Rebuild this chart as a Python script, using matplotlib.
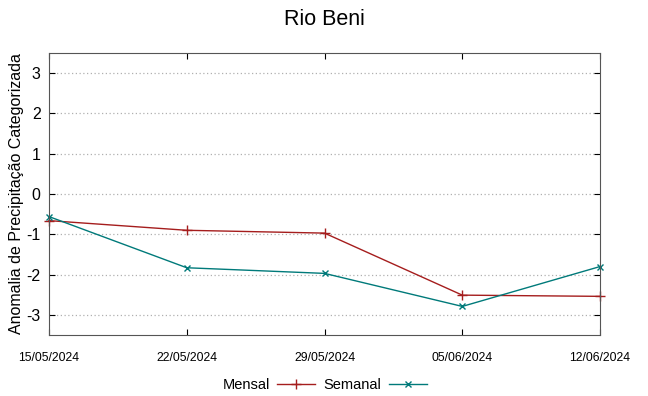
import matplotlib
matplotlib.use('Agg')
import matplotlib.pyplot as plt
import numpy as np
import pandas as pd

plt.rcParams['font.family'] = ['Liberation Sans', 'DejaVu Sans']
plt.rcParams['axes.unicode_minus'] = False

# Data
dates = pd.to_datetime(['2024-05-15', '2024-05-22', '2024-05-29', '2024-06-05', '2024-06-12'])
mensal = [-0.66, -0.90, -0.97, -2.51, -2.54]
semanal = [-0.56, -1.83, -1.97, -2.79, -1.80]
tick_labels = ['15/05/2024', '22/05/2024', '29/05/2024', '05/06/2024', '12/06/2024']

fig = plt.figure(figsize=(6.48, 3.96), dpi=100)
ax = fig.add_axes([0.0756, 0.154, 0.8504, 0.712])

ax.plot(dates, mensal, color='#a51d1d', lw=1.0, marker='+', ms=7, mew=1.0, label='Mensal', clip_on=False)
ax.plot(dates, semanal, color='#007a7a', lw=1.0, marker='x', ms=5, mew=1.0, label='Semanal', clip_on=False)

ax.set_xlim(dates[0], dates[-1])
ax.set_ylim(-3.5, 3.5)
ax.set_xticks(dates)
ax.set_xticklabels(tick_labels, fontsize=8.8)
ax.set_yticks([-3, -2, -1, 0, 1, 2, 3])
ax.tick_params(axis='y', labelsize=11.5, direction='in', length=4, right=True, pad=6)
ax.tick_params(axis='x', direction='in', length=4, top=True, pad=12)

ax.yaxis.grid(True, linestyle=(0, (1, 2)), color='#b0b0b0', lw=0.9)
for s in ax.spines.values():
    s.set_color('#555555')

ax.set_ylabel('Anomalia de Precipitação Categorizada', fontsize=11.5, labelpad=2)
ax.set_title('Rio Beni', fontsize=15.5, pad=20)

ax.legend(loc='upper center', bbox_to_anchor=(0.5, -0.105), ncol=2, frameon=False,
          markerfirst=False, fontsize=10.5, handlelength=2.6, columnspacing=0.6,
          handletextpad=0.5)

fig.savefig('out.png', dpi=100)
